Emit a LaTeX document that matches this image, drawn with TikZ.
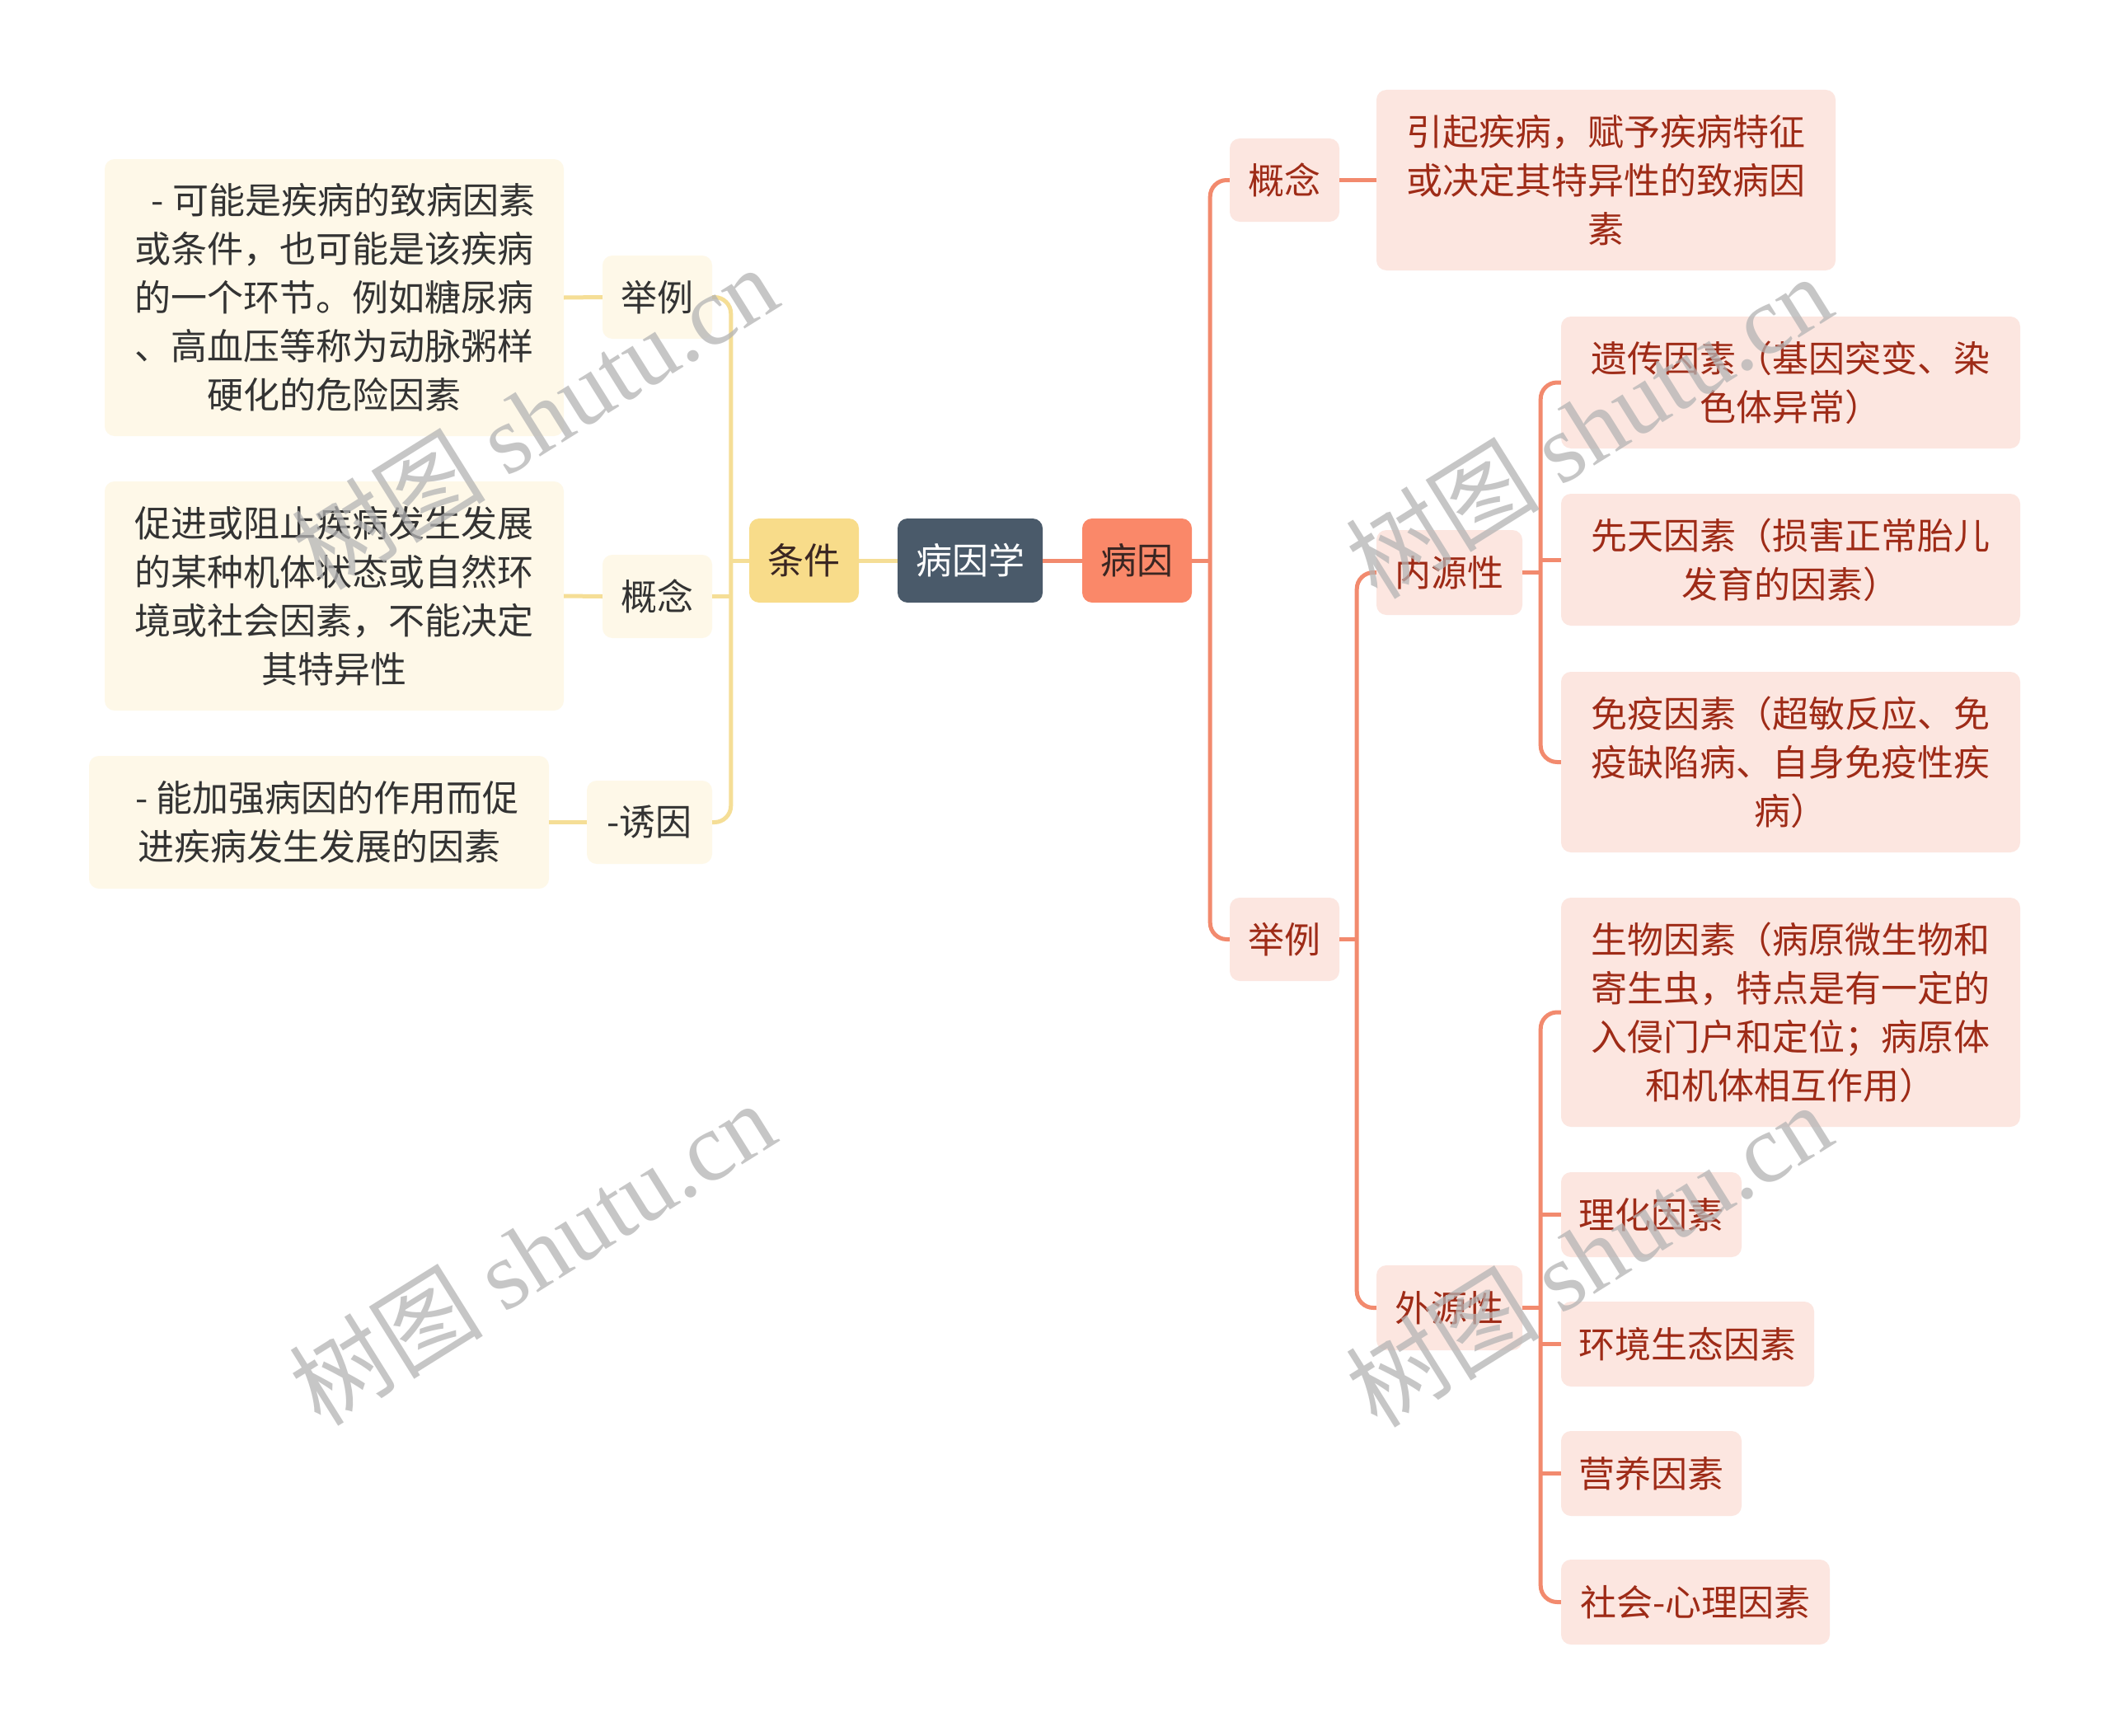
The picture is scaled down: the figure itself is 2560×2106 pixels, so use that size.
\documentclass[tikz,border=0pt]{standalone}
\usepackage{fontspec}
\setmainfont{Noto Sans CJK SC}
\newfontfamily\wmserif{Liberation Serif}
\usetikzlibrary{calc}
\definecolor{rootfill}{HTML}{4A5A6A}
\definecolor{coral}{HTML}{FA8869}
\definecolor{rlinec}{HTML}{F28A6E}
\definecolor{rfill}{HTML}{FCE6E0}
\definecolor{rtext}{HTML}{9E2B17}
\definecolor{yfill}{HTML}{F8DC8A}
\definecolor{ylinec}{HTML}{F5DE96}
\definecolor{lyfill}{HTML}{FEF8E8}
\definecolor{ltext}{HTML}{333333}
\definecolor{darkt}{HTML}{3A2622}
\definecolor{wmc}{HTML}{B4B4B4}
\tikzset{
  box/.style={rounded corners=12pt, inner sep=0pt, align=center, font=\fontsize{44}{59}\selectfont},
  rbox/.style={box, fill=rfill, text=rtext},
  lbox/.style={box, fill=lyfill, text=ltext},
  rcon/.style={draw=rlinec, line width=5pt, rounded corners=20pt},
  lcon/.style={draw=ylinec, line width=5pt, rounded corners=20pt},
  wm/.style={text=wmc, text opacity=0.75, rotate=32, inner sep=0pt},
}
\begin{document}
\begin{tikzpicture}[x=1pt,y=-1pt]
\useasboundingbox (0,0) rectangle (2560,2106);
\fill[white] (0,0) rectangle (2560,2106);
% centre
\node[box, fill=rootfill, text=white, minimum width=176pt, minimum height=102pt] (root) at (1177,680) {病因学};
\node[box, fill=coral, text=darkt, minimum width=133pt, minimum height=102pt] (by) at (1379.5,680) {病因};
\node[box, fill=yfill, text=darkt, minimum width=133pt, minimum height=102pt] (tj) at (975.5,680) {条件};
% left
\node[lbox, minimum width=133pt, minimum height=101pt] (ljl) at (797.5,360.5) {举例};
\node[lbox, minimum width=557pt, minimum height=336pt] (ljlt) at (405.5,361) {\hspace{0.5em}- 可能是疾病的致病因素\\或条件，也可能是该疾病\\的一个环节。例如糖尿病\\、高血压等称为动脉粥样\\硬化的危险因素};
\node[lbox, minimum width=133pt, minimum height=101pt] (lgn) at (797.5,723.5) {概念};
\node[lbox, minimum width=557pt, minimum height=278pt] (lgnt) at (405.5,723) {促进或阻止疾病发生发展\\的某种机体状态或自然环\\境或社会因素，不能决定\\其特异性};
\node[lbox, minimum width=152pt, minimum height=101pt] (lyy) at (788,997.5) {-诱因};
\node[lbox, minimum width=558pt, minimum height=161pt] (lyyt) at (387,997.5) {\hspace{0.45em}- 能加强病因的作用而促\\进疾病发生发展的因素};
% right
\node[rbox, minimum width=133pt, minimum height=101pt] (rgn) at (1558.5,218.5) {概念};
\node[rbox, minimum width=557pt, minimum height=219pt] (rgnt) at (1948.5,218.5) {引起疾病，赋予疾病特征\\或决定其特异性的致病因\\素};
\node[rbox, minimum width=133pt, minimum height=101pt] (rjl) at (1558.5,1139.5) {举例};
\node[rbox, minimum width=177pt, minimum height=103pt] (nei) at (1758.5,694.5) {内源性};
\node[rbox, minimum width=177pt, minimum height=103pt] (wai) at (1758.5,1586.5) {外源性};
\node[rbox, minimum width=557pt, minimum height=160pt] (yc) at (2172.5,464) {遗传因素（基因突变、染\\色体异常）};
\node[rbox, minimum width=557pt, minimum height=160pt] (xt) at (2172.5,679) {先天因素（损害正常胎儿\\发育的因素）};
\node[rbox, minimum width=557pt, minimum height=219pt] (my) at (2172.5,924.5) {免疫因素（超敏反应、免\\疫缺陷病、自身免疫性疾\\病）};
\node[rbox, minimum width=557pt, minimum height=278pt] (sw) at (2172.5,1228) {生物因素（病原微生物和\\寄生虫，特点是有一定的\\入侵门户和定位；病原体\\和机体相互作用）};
\node[rbox, minimum width=219pt, minimum height=103pt] (lh) at (2003.5,1473.5) {理化因素};
\node[rbox, minimum width=307pt, minimum height=103pt] (hj) at (2047.5,1630.5) {环境生态因素};
\node[rbox, minimum width=219pt, minimum height=103pt] (yy) at (2003.5,1787.5) {营养因素};
\node[rbox, minimum width=326pt, minimum height=103pt] (sh) at (2057,1943.5) {社会-心理因素};
% trunk coordinates
\coordinate (t1) at ($(by.east)+(22,0)$);
\coordinate (t2) at ($(rjl.east)+(21,0)$);
\coordinate (t3) at ($(nei.east)+(22,0)$);
\coordinate (t4) at ($(wai.east)+(22,0)$);
\coordinate (tl) at ($(tj.west)+(-22,0)$);
% centre connectors
\draw[lcon] (root.west) -- (tj.east);
\draw[rcon] (root.east) -- (by.west);
\draw[rcon] (by.east) -- (t1);
\draw[rcon] (rgn.west) -| (t1) |- (rjl.west);
\draw[rcon] (rgn.east) -- (rgnt.west);
\draw[rcon] (rjl.east) -- (t2);
\draw[rcon] (nei.west) -| (t2) |- (wai.west);
\draw[rcon] (nei.east) -- (t3);
\draw[rcon] (yc.west) -| (t3) |- (my.west);
\draw[rcon] (xt.west) -- (xt.west -| t3);
\draw[rcon] (wai.east) -- (t4);
\draw[rcon] (sw.west) -| (t4) |- (sh.west);
\draw[rcon] (lh.west) -- (lh.west -| t4);
\draw[rcon] (hj.west) -- (hj.west -| t4);
\draw[rcon] (yy.west) -- (yy.west -| t4);
% left connectors
\draw[lcon] (tj.west) -- (tl);
\draw[lcon] (ljl.east) -| (tl) |- (lyy.east);
\draw[lcon] (lgn.east) -- (lgn.east -| tl);
\draw[lcon] (ljl.west) -- (ljlt.east);
\draw[lcon] (lgn.west) -- (lgnt.east);
\draw[lcon] (lyy.west) -- (lyyt.east);
% watermarks
\node[wm] (wm1) at (648,506) {\fontsize{118}{118}\selectfont 树图 \wmserif shutu.cn};
\node[wm] (wm2) at (645,1520) {\fontsize{118}{118}\selectfont 树图 \wmserif shutu.cn};
\node[wm] (wm3) at (1927,517) {\fontsize{118}{118}\selectfont 树图 \wmserif shutu.cn};
\node[wm] (wm4) at (1927,1522) {\fontsize{118}{118}\selectfont 树图 \wmserif shutu.cn};
\end{tikzpicture}
\end{document}
